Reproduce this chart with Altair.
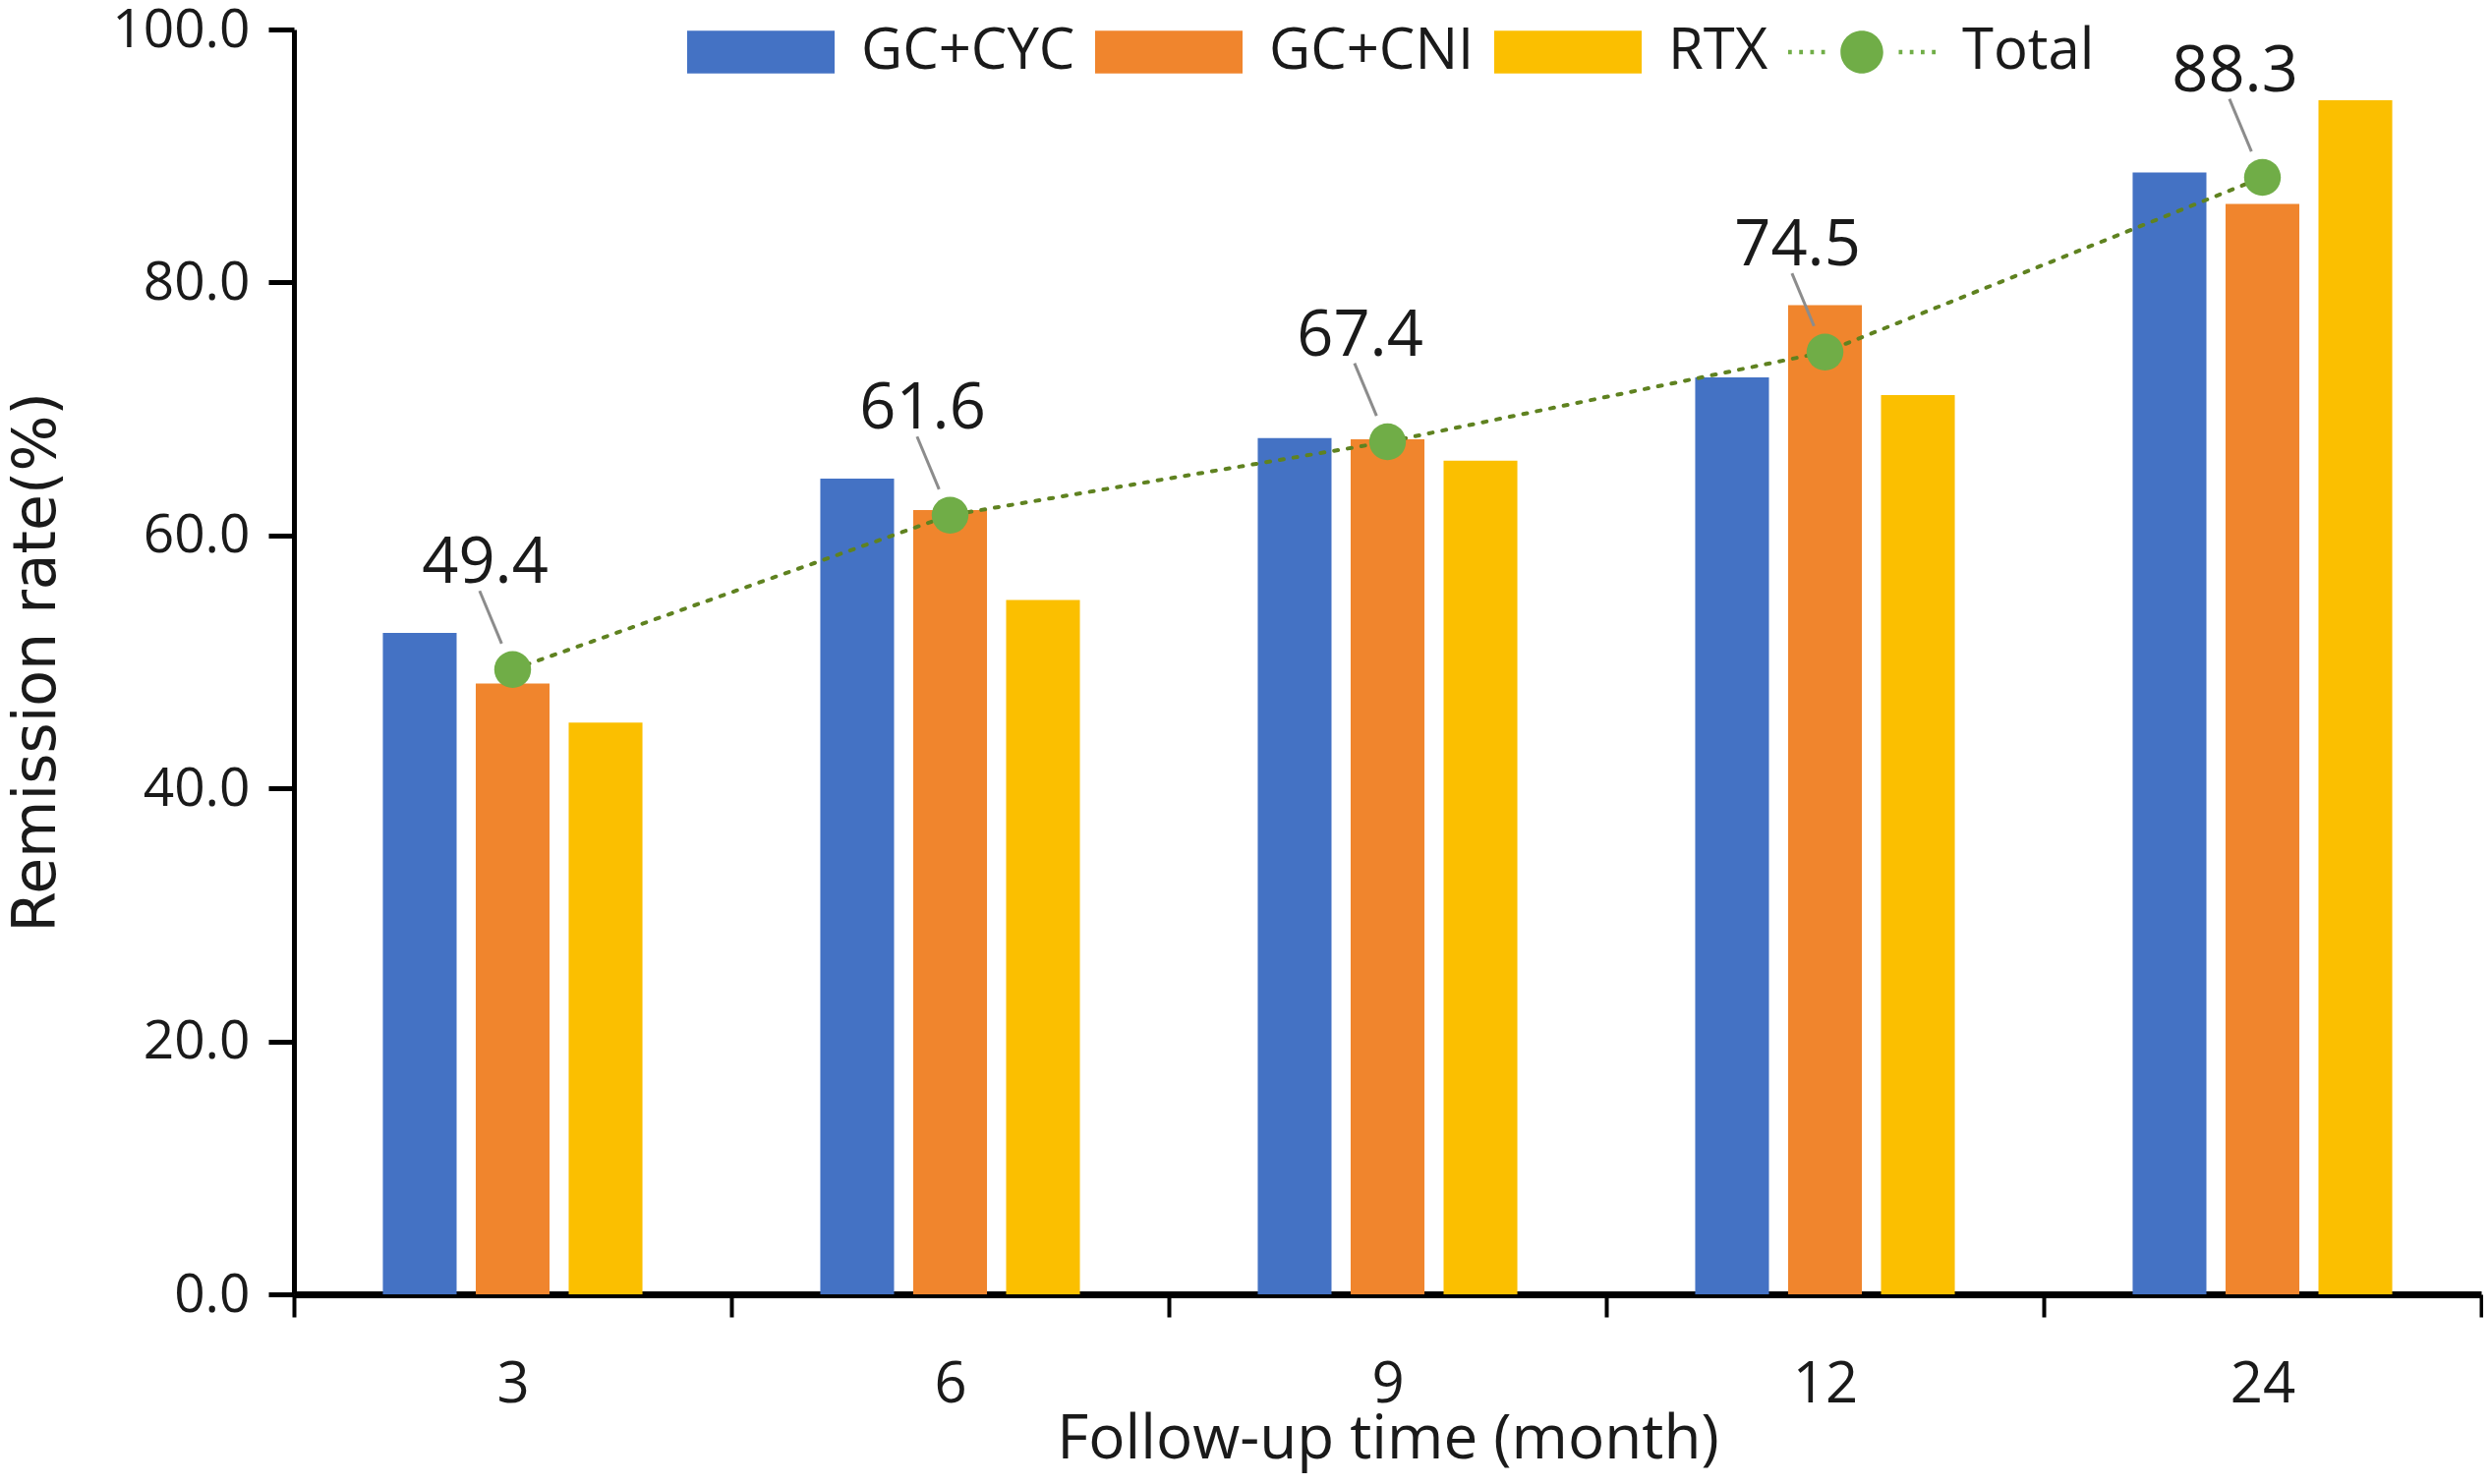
import altair as alt
import pandas as pd

# values
months = ["3", "6", "9", "12", "24"]
groups = ["GC+CYC", "GC+CNI", "RTX"]
gc_cyc = [52.3, 64.5, 67.7, 72.5, 88.7]
gc_cni = [48.3, 62.0, 67.6, 78.2, 86.2]
rtx = [45.2, 54.9, 65.9, 71.1, 94.4]
total = [49.4, 61.6, 67.4, 74.5, 88.3]

bar_colors = ["#4472C4", "#F0852D", "#FBBF00"]
total_color = "#70AD47"
FONT = "Open Sans"
TEXT = "#1a1a1a"

bars_df = pd.DataFrame({
    "month": months * 3,
    "group": [g for g in groups for _ in months],
    "rate": gc_cyc + gc_cni + rtx,
})
total_df = pd.DataFrame({
    "month": months,
    "rate": total,
    "series": ["Total"] * len(months),
    "label": [f"{v:.1f}" for v in total],
})

# legend symbols: wide rectangle for bars, dotted line + circle for Total
rect_path = "M-1,-0.29H1V0.29H-1Z"
dots = "".join(
    f"M{x:.2f},-0.03h0.05v0.06h-0.05Z"
    for x in (-1.0, -0.85, -0.7, -0.55, 0.5, 0.65, 0.8, 0.95)
)
total_path = "M-0.29,0A0.29,0.29 0 1,0 0.29,0A0.29,0.29 0 1,0 -0.29,0Z" + dots
leader_path = "M-0.42,-1L-0.14,-0.33"

legend_style = dict(
    title=None,
    orient="none",
    direction="horizontal",
    symbolSize=22500,
    symbolStrokeWidth=0,
    symbolOpacity=1,
    labelFont=FONT,
    labelFontSize=58,
    labelColor=TEXT,
    labelOffset=27,
    labelLimit=400,
    columnPadding=20,
    padding=0,
)

x = alt.X(
    "month:N",
    sort=months,
    title="Follow-up time (month)",
    scale=alt.Scale(paddingInner=0, paddingOuter=0),
    axis=alt.Axis(
        labelAngle=0,
        tickBand="extent",
        domainWidth=7,
        domainColor="black",
        tickColor="black",
        tickWidth=4,
        tickSize=23,
        labelFont=FONT,
        labelFontSize=58,
        labelColor=TEXT,
        labelPadding=40,
        titleFont=FONT,
        titleFontSize=62,
        titleFontWeight="normal",
        titleColor=TEXT,
        titlePadding=-4,
    ),
)
y = alt.Y(
    "rate:Q",
    title="Remission rate(%)",
    scale=alt.Scale(domain=[0, 100], nice=False),
    axis=alt.Axis(
        values=[0, 20, 40, 60, 80, 100],
        format=".1f",
        grid=False,
        domainWidth=5,
        domainColor="black",
        tickColor="black",
        tickWidth=5,
        tickSize=26,
        labelFont=FONT,
        labelFontSize=55,
        labelColor=TEXT,
        labelPadding=19,
        labelFlush=False,
        titleFont="DejaVu Sans",
        titleFontSize=60,
        titleFontWeight="normal",
        titleColor=TEXT,
        titlePadding=45,
    ),
)

bars = alt.Chart(bars_df).mark_bar().encode(
    x=x,
    y=y,
    xOffset=alt.XOffset(
        "group:N",
        sort=groups,
        scale=alt.Scale(paddingInner=0.206, paddingOuter=0.957),
    ),
    color=alt.Color(
        "group:N",
        sort=groups,
        scale=alt.Scale(domain=groups, range=bar_colors),
        legend=alt.Legend(symbolType=rect_path, legendX=400, legendY=-52, **legend_style),
    ),
)

line = alt.Chart(total_df).mark_line(
    color="#5F8220", strokeDash=[4, 10], strokeWidth=4, strokeCap="round"
).encode(x=x, y=y)

leaders = alt.Chart(total_df).mark_point(
    shape=leader_path, size=25600, filled=False, stroke="#8c8c8c", strokeWidth=3, opacity=1
).encode(x=x, y=y)

points = alt.Chart(total_df).mark_circle(size=1400, opacity=1).encode(
    x=x,
    y=y,
    fill=alt.Fill(
        "series:N",
        scale=alt.Scale(domain=["Total"], range=[total_color]),
        legend=alt.Legend(symbolType=total_path, legendX=1520, legendY=-52, **legend_style),
    ),
)

labels = alt.Chart(total_df).mark_text(
    dx=-28, dy=-108, fontSize=65, font=FONT, color=TEXT
).encode(x=x, y=y, text="label:N")

chart = (
    alt.layer(bars, line, leaders, points, labels)
    .properties(
        width=2225,
        height=1287,
        autosize=alt.AutoSizeParams(type="none"),
        padding={"left": 291, "top": 22, "right": 2, "bottom": 183},
    )
    .configure_view(stroke=None)
)

chart.save("out.html", embed_options={"renderer": "svg", "actions": False})
